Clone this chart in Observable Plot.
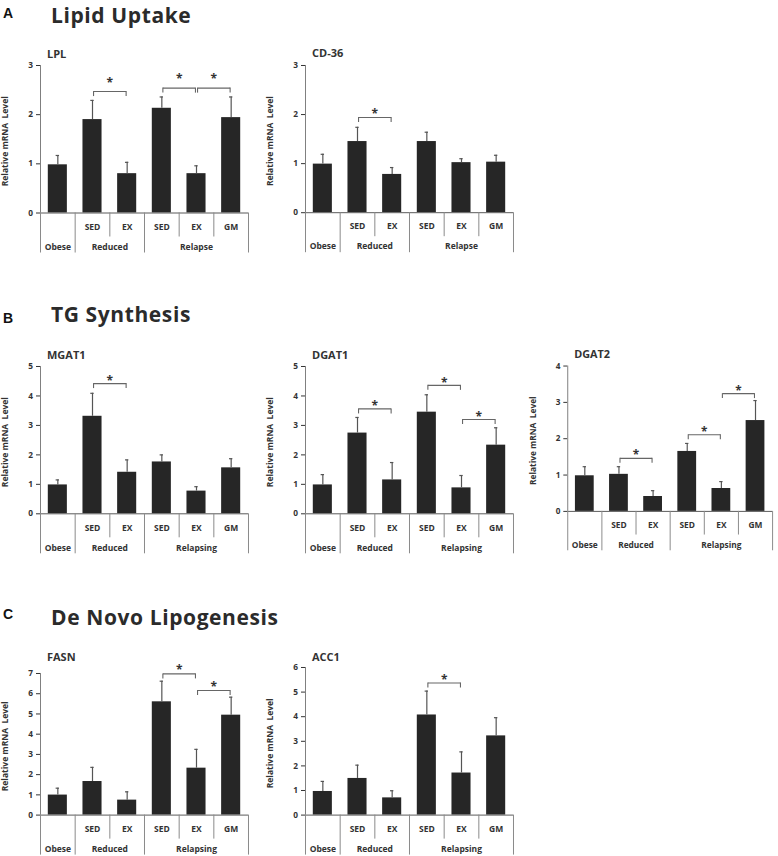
<!DOCTYPE html>
<html><head><meta charset="utf-8">
<script src="https://cdn.jsdelivr.net/npm/d3@7"></script>
<script src="https://cdn.jsdelivr.net/npm/@observablehq/plot@0.6"></script>
<style>
html,body{margin:0;padding:0;background:#fff;}
#page{position:relative;width:778px;height:856px;overflow:hidden;background:#fff;}
.panel{position:absolute;}
.panel svg{overflow:visible;}
#heads{position:absolute;left:0;top:0;}
</style></head><body><div id="page"></div>
<script>
// ---------- data ----------
const subLabels = ["", "SED", "EX", "SED", "EX", "GM"];
const groupNamesA = ["Obese", "Reduced", "Relapse"];
const groupNamesBC = ["Obese", "Reduced", "Relapsing"];
const groupSizes = [1, 2, 3];
const yLabel = "Relative mRNA  Level";

const sectionLetters = ["A", "B", "C"];
const sectionTitles = ["Lipid Uptake", "TG Synthesis", "De Novo Lipogenesis"];

const lplMean = [0.98, 1.90, 0.80, 2.13, 0.80, 1.94];
const lplErr  = [0.19, 0.39, 0.23, 0.23, 0.16, 0.42];
const lplPairs = [[1, 2], [3, 4], [4, 5]];
const lplPairLevel = [2.47, 2.54, 2.54];
const lplStarLevel = [2.71, 2.78, 2.78];

const cd36Mean = [0.99, 1.45, 0.78, 1.45, 1.02, 1.03];
const cd36Err  = [0.20, 0.29, 0.14, 0.19, 0.08, 0.14];
const cd36Pairs = [[1, 2]];
const cd36PairLevel = [1.94];
const cd36StarLevel = [2.06];

const mgat1Mean = [0.98, 3.31, 1.41, 1.76, 0.77, 1.56];
const mgat1Err  = [0.17, 0.78, 0.42, 0.24, 0.15, 0.31];
const mgat1Pairs = [[1, 2]];
const mgat1PairLevel = [4.42];
const mgat1StarLevel = [4.62];

const dgat1Mean = [0.98, 2.74, 1.15, 3.45, 0.88, 2.33];
const dgat1Err  = [0.35, 0.53, 0.59, 0.59, 0.42, 0.59];
const dgat1Pairs = [[1, 2], [3, 4], [4, 5]];
const dgat1PairLevel = [3.56, 4.36, 3.20];
const dgat1StarLevel = [3.76, 4.55, 3.39];

const dgat2Mean = [0.98, 1.02, 0.41, 1.65, 0.63, 2.50];
const dgat2Err  = [0.25, 0.21, 0.16, 0.22, 0.19, 0.55];
const dgat2Pairs = [[1, 2], [3, 4], [4, 5]];
const dgat2PairLevel = [1.46, 2.11, 3.24];
const dgat2StarLevel = [1.62, 2.27, 3.40];

const fasnMean = [0.99, 1.66, 0.74, 5.60, 2.32, 4.94];
const fasnErr  = [0.34, 0.70, 0.41, 1.02, 0.93, 0.89];
const fasnPairs = [[3, 4], [4, 5]];
const fasnPairLevel = [6.98, 6.16];
const fasnStarLevel = [7.31, 6.45];

const acc1Mean = [0.96, 1.49, 0.70, 4.07, 1.71, 3.22];
const acc1Err  = [0.41, 0.54, 0.29, 0.97, 0.86, 0.74];
const acc1Pairs = [[3, 4]];
const acc1PairLevel = [5.37];
const acc1StarLevel = [5.60];

// ---------- layout ----------
const FONT = "'Open Sans', Lato, sans-serif";
const TXT = "#333333";
const colAxisX = [40, 304.5, 568];
const frameW = 208;
const ML = 50, MR = 6, MT = 30, MB = 46;

const panels = [
  {name: "LPL",   mean: lplMean,   err: lplErr,   pairs: lplPairs,   lv: lplPairLevel,   sv: lplStarLevel,   ymax: 3, groups: groupNamesA,  col: 0, top: 64.5,  bottom: 212,   titleY: 53},
  {name: "CD-36", mean: cd36Mean,  err: cd36Err,  pairs: cd36Pairs,  lv: cd36PairLevel,  sv: cd36StarLevel,  ymax: 3, groups: groupNamesA,  col: 1, top: 64.8,  bottom: 212,   titleY: 53},
  {name: "MGAT1", mean: mgat1Mean, err: mgat1Err, pairs: mgat1Pairs, lv: mgat1PairLevel, sv: mgat1StarLevel, ymax: 5, groups: groupNamesBC, col: 0, top: 366,   bottom: 513.3, titleY: 355},
  {name: "DGAT1", mean: dgat1Mean, err: dgat1Err, pairs: dgat1Pairs, lv: dgat1PairLevel, sv: dgat1StarLevel, ymax: 5, groups: groupNamesBC, col: 1, top: 366,   bottom: 513.3, titleY: 355},
  {name: "DGAT2", mean: dgat2Mean, err: dgat2Err, pairs: dgat2Pairs, lv: dgat2PairLevel, sv: dgat2StarLevel, ymax: 4, groups: groupNamesBC, col: 2, top: 365.7, bottom: 513.3, titleY: 354.5},
  {name: "FASN",  mean: fasnMean,  err: fasnErr,  pairs: fasnPairs,  lv: fasnPairLevel,  sv: fasnStarLevel,  ymax: 7, groups: groupNamesBC, col: 0, top: 672.7, bottom: 814.3, titleY: 656.5},
  {name: "ACC1",  mean: acc1Mean,  err: acc1Err,  pairs: acc1Pairs,  lv: acc1PairLevel,  sv: acc1StarLevel,  ymax: 6, groups: groupNamesBC, col: 1, top: 666.7, bottom: 814.3, titleY: 656.5}
];

const page = document.getElementById("page");

// section headings
const heads = d3.select(page).append("svg").attr("id", "heads").attr("width", 778).attr("height", 856);
const letterBase = [18.3, 322.7, 619.3];
const titleBase = [22.6, 321.8, 624.8];
sectionLetters.forEach((L, k) => {
  heads.append("text").attr("x", 3).attr("y", letterBase[k]).text(L)
    .attr("font-family", "'Liberation Sans', Arial, sans-serif").attr("font-weight", "bold")
    .attr("font-size", 14).attr("fill", "#111");
  heads.append("text").attr("x", 51).attr("y", titleBase[k]).text(sectionTitles[k])
    .attr("font-family", FONT).attr("font-weight", "bold")
    .attr("font-size", 21).attr("letter-spacing", 0.6).attr("fill", "#2b2b2b");
});

function makePanel(p) {
  const frameH = p.bottom - p.top;
  const width = ML + frameW + MR;
  const height = MT + frameH + MB;
  const bars = p.mean.map((m, i) => ({i, m, e: p.err[i], label: subLabels[i]}));
  let s = 0;
  const groups = p.groups.map((n, k) => { const g = {name: n, start: s, end: s + groupSizes[k]}; s += groupSizes[k]; return g; });
  const longSeps = [0, ...groups.map(g => g.end)];
  const shortSeps = [];
  groups.forEach(g => { for (let j = g.start + 1; j < g.end; j++) shortSeps.push(j); });
  const brackets = p.pairs.map((pr, k) => ({x1: pr[0] + 0.53, x2: pr[1] + 0.47, y: p.lv[k], s: p.sv[k]}));
  const ticks = d3.range(0, p.ymax + 1);
  const lineC = "#8a8a8a";
  const errC = "#555555";

  const chart = Plot.plot({
    width, height,
    marginTop: MT, marginBottom: MB, marginLeft: ML, marginRight: MR,
    style: {background: "transparent", fontFamily: FONT, fontWeight: "bold", color: TXT, fontSize: "8.3px", overflow: "visible"},
    x: {domain: [0, 6], axis: null},
    y: {domain: [0, p.ymax], ticks, tickSize: 4, tickPadding: 3.5, label: null, nice: false, tickFormat: d3.format("d")},
    marks: [
      // bars
      Plot.rect(bars, {x1: d => d.i, x2: d => d.i + 1, y1: 0, y2: "m", insetLeft: 7.8, insetRight: 7.8, fill: "#262626"}),
      // error bars (upper)
      Plot.ruleX(bars, {x: d => d.i + 0.5, y1: "m", y2: d => d.m + d.e, stroke: errC, strokeWidth: 1.2}),
      Plot.ruleY(bars, {y: d => d.m + d.e, x1: d => d.i + 0.5, x2: d => d.i + 0.5, insetLeft: -1.7, insetRight: -1.7, stroke: errC, strokeWidth: 1.2}),
      // axis lines
      Plot.ruleX([0], {x: d => d, y1: 0, y2: p.ymax, stroke: "#7f7f7f"}),
      Plot.ruleY([0], {y: d => d, stroke: "#595959"}),
      // category table
      Plot.ruleX(longSeps, {x: d => d, y1: 0, y2: 0, insetTop: 0, insetBottom: -40, stroke: lineC}),
      Plot.ruleX(shortSeps, {x: d => d, y1: 0, y2: 0, insetTop: 0, insetBottom: -24, stroke: lineC}),
      Plot.text(bars.filter(d => d.label), {x: d => d.i + 0.5, y: 0, dy: 14, text: "label", fontSize: 8.5, fill: TXT}),
      Plot.text(groups, {x: d => (d.start + d.end) / 2, y: 0, dy: 34, text: "name", fontSize: 8.5, fill: TXT}),
      // significance brackets
      Plot.link(brackets, {x1: "x1", x2: "x2", y1: "y", y2: "y", stroke: "#666", strokeWidth: 1.1}),
      Plot.ruleX(brackets, {x: "x1", y1: "y", y2: "y", insetTop: 0, insetBottom: -5, stroke: "#666", strokeWidth: 1.1}),
      Plot.ruleX(brackets, {x: "x2", y1: "y", y2: "y", insetTop: 0, insetBottom: -5, stroke: "#666", strokeWidth: 1.1}),
      Plot.text(brackets, {x: d => (d.x1 + d.x2) / 2, y: "s", text: () => "*", fontSize: 12, dy: 3, fill: TXT}),
      // panel title
      Plot.text([p.name], {x: () => 0, y: () => p.ymax, dx: 6.5, dy: p.titleY - p.top, text: d => d, textAnchor: "start", fontSize: 11, fill: TXT}),
      // y label
      Plot.text([yLabel], {x: () => 0, y: () => p.ymax / 2, dx: -35, dy: 2, text: d => d, rotate: -90, fontSize: 8.5, fill: TXT})
    ]
  });
  const div = document.createElement("div");
  div.className = "panel";
  div.style.left = (colAxisX[p.col] - ML) + "px";
  div.style.top = (p.top - MT) + "px";
  div.appendChild(chart);
  page.appendChild(div);
}
panels.forEach(makePanel);
</script>
</body></html>
